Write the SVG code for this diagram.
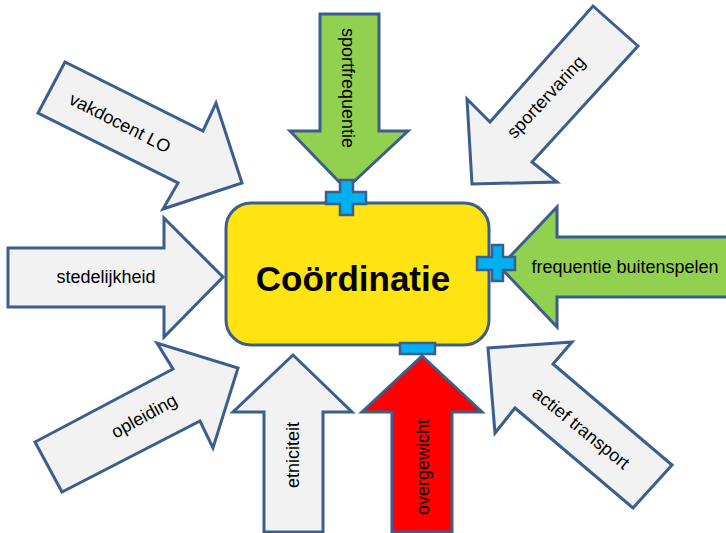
<svg xmlns="http://www.w3.org/2000/svg" width="726" height="533" viewBox="0 0 726 533">
  <style>
    .arrow { stroke: #3B5E8C; stroke-width: 3; stroke-linejoin: miter; }
    .grey { fill: #F2F2F2; }
    .green { fill: #92D050; }
    .red { fill: #FF0000; }
    .sign { fill: #00B0F0; stroke: #3B5E8C; stroke-width: 2.5; }
    .label { font-family: "Liberation Sans", Arial, sans-serif; font-size: 18px; fill: #000; text-anchor: middle; dominant-baseline: central; }
    .title { font-family: "Liberation Sans", Arial, sans-serif; font-size: 35px; font-weight: bold; fill: #000; text-anchor: middle; dominant-baseline: central; }
  </style>

  <!-- factor arrows pointing at the central box -->
  <g id="connectors">
    <g id="vakdocent">
      <polygon class="arrow grey" points="65,62 38,113 178,183 163,209 242,183 216,103 203,131"/>
      <text class="label" transform="translate(120,123) rotate(27)">vakdocent LO</text>
    </g>
    <g id="sportfrequentie">
      <polygon class="arrow green" points="320,14 379,14 379,131 408,131 346,189 290,131 320,131"/>
      <text class="label" transform="translate(348,88) rotate(90)">sportfrequentie</text>
    </g>
    <g id="sportervaring">
      <polygon class="arrow grey" points="593,6 638,46 532,162 557,182 472,184 467,99 490,122"/>
      <text class="label" transform="translate(546,97) rotate(-47)">sportervaring</text>
    </g>
    <g id="stedelijkheid">
      <polygon class="arrow grey" points="8,248 164,248 164,218 223,277 164,337 164,307 8,307"/>
      <text class="label" x="106" y="277">stedelijkheid</text>
    </g>
    <g id="buitenspelen">
      <polygon class="arrow green" points="730,237 557,237 557,207 500,267 557,327 557,297 730,297"/>
      <text class="label" x="625" y="267">frequentie buitenspelen</text>
    </g>
    <g id="opleiding">
      <polygon class="arrow grey" points="35,442 62,492 200,421 213,448 238,368 157,343 173,369"/>
      <text class="label" transform="translate(144,416) rotate(-29)">opleiding</text>
    </g>
    <g id="etniciteit">
      <polygon class="arrow grey" points="264,532 323,532 323,412 352,412 293,355 233,412 264,412"/>
      <text class="label" transform="translate(293,455) rotate(-90)">etniciteit</text>
    </g>
    <g id="overgewicht">
      <polygon class="arrow red" points="392,532 452,532 452,412 482,412 422,356 362,412 392,412"/>
      <text class="label" transform="translate(423,467) rotate(-90)">overgewicht</text>
    </g>
    <g id="actief-transport">
      <polygon class="arrow grey" points="672,465 633,508 515,408 495,433 488,348 572,342 553,364"/>
      <text class="label" transform="translate(581,428) rotate(39)">actief transport</text>
    </g>
  </g>

  <!-- central concept -->
  <g id="coordinatie">
    <rect x="226" y="203" width="263" height="142" rx="25" ry="25" fill="#FFE313" stroke="#3B5E8C" stroke-width="3"/>
    <text class="title" x="353" y="278">Coördinatie</text>
  </g>

  <!-- effect signs -->
  <g id="plus-top">
    <polygon class="sign" points="340,180 353,180 353,192 366,192 366,204 353,204 353,215 340,215 340,204 326,204 326,192 340,192"/>
  </g>
  <g id="plus-right">
    <polygon class="sign" points="492,245 503,245 503,257 515,257 515,270 503,270 503,281 492,281 492,270 477,270 477,257 492,257"/>
  </g>
  <g id="minus-bottom">
    <rect class="sign" x="400" y="343" width="35" height="11"/>
  </g>
</svg>
